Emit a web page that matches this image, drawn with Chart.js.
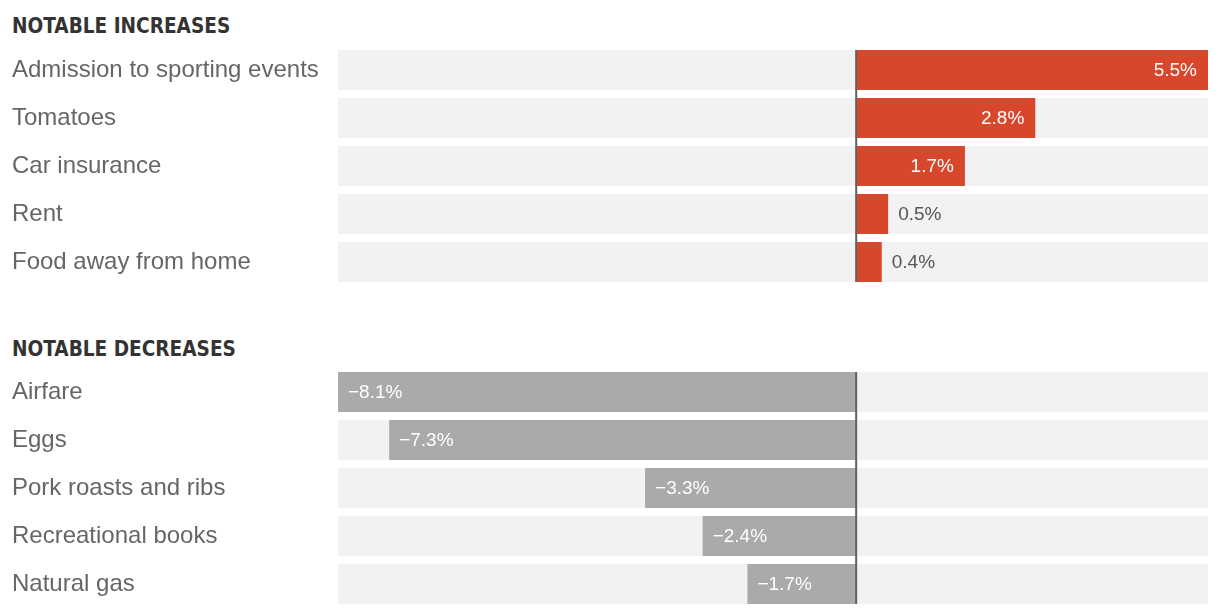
<!DOCTYPE html>
<html>
<head>
<meta charset="utf-8">
<script src="https://cdn.jsdelivr.net/npm/chart.js@4"></script>
<style>
  html, body { margin: 0; padding: 0; background: #fff; }
  body { width: 1220px; height: 614px; position: relative; overflow: hidden; }
  .title {
    position: absolute; left: 12px;
    font-family: "DejaVu Sans Condensed", "Liberation Sans", sans-serif;
    font-weight: bold; font-size: 20.6px; color: #333; line-height: 1;
  }
  canvas { position: absolute; left: 0; }
</style>
</head>
<body>
<div class="title" style="top:16px">NOTABLE INCREASES</div>
<canvas id="inc" width="1220" height="240" style="top:46px"></canvas>
<div class="title" style="top:339px">NOTABLE DECREASES</div>
<canvas id="dec" width="1220" height="240" style="top:368px"></canvas>
<script>
// percent change
const increaseLabels = ['Admission to sporting events', 'Tomatoes', 'Car insurance', 'Rent', 'Food away from home'];
const increaseValues = [5.5, 2.8, 1.7, 0.5, 0.4];
const decreaseLabels = ['Airfare', 'Eggs', 'Pork roasts and ribs', 'Recreational books', 'Natural gas'];
const decreaseValues = [-8.1, -7.3, -3.3, -2.4, -1.7];
const axisMin = -8.1;
const axisMax = 5.5;

const FONT = '"Helvetica Neue", Helvetica, Arial, "Liberation Sans", sans-serif';

function fmt(v) {
    return (v < 0 ? '\u2212' : '') + Math.abs(v).toFixed(1) + '%';
}

// zero line + value labels
const barExtras = {
    id: 'barExtras',
    afterDatasetsDraw(chart) {
        const ctx = chart.ctx;
        const meta = chart.getDatasetMeta(0);
        const values = chart.data.datasets[0].data;
        const x0 = chart.scales.x.getPixelForValue(0);
        const first = meta.data[0], last = meta.data[meta.data.length - 1];

        ctx.save();
        ctx.strokeStyle = '#606060';
        ctx.lineWidth = 2;
        ctx.beginPath();
        ctx.moveTo(x0, first.y - first.height / 2);
        ctx.lineTo(x0, last.y + last.height / 2);
        ctx.stroke();

        ctx.font = '19px ' + FONT;
        ctx.textBaseline = 'middle';
        meta.data.forEach((bar, i) => {
            const v = values[i];
            const text = fmt(v);
            const w = ctx.measureText(text).width;
            const len = Math.abs(bar.x - bar.base);
            if (v < 0) {
                ctx.fillStyle = '#fff';
                ctx.textAlign = 'left';
                ctx.fillText(text, bar.x + 10, bar.y + 1);
            } else if (len > w + 24) {
                ctx.fillStyle = '#fff';
                ctx.textAlign = 'right';
                ctx.fillText(text, bar.x - 11, bar.y + 1);
            } else {
                ctx.fillStyle = '#555';
                ctx.textAlign = 'left';
                ctx.fillText(text, bar.x + 10, bar.y + 1);
            }
        });
        ctx.restore();
    }
};

function makeChart(id, labels, values, color) {
    return new Chart(document.getElementById(id), {
        type: 'bar',
        data: {
            labels: labels,
            datasets: [{
                data: values,
                backgroundColor: color,
                grouped: false,
                order: 1,
                categoryPercentage: 1,
                barPercentage: 40 / 48,
            }, {
                data: labels.map(() => [axisMin, axisMax]),
                backgroundColor: '#f2f2f2',
                grouped: false,
                order: 2,
                categoryPercentage: 1,
                barPercentage: 40 / 48,
            }]
        },
        options: {
            indexAxis: 'y',
            responsive: false,
            animation: false,
            events: [],
            layout: {
                padding: { left: 12, right: 12, top: 0, bottom: 0 },
            },
            plugins: {
                legend: { display: false },
                tooltip: { enabled: false },
            },
            scales: {
                x: {
                    display: false,
                    min: axisMin,
                    max: axisMax,
                },
                y: {
                    grid: { display: false },
                    border: { display: false },
                    ticks: {
                        crossAlign: 'far',
                        color: '#666',
                        font: { family: FONT, size: 24 },
                    },
                    afterFit(scale) {
                        scale.width = 326;
                        scale.paddingTop = 0;
                        scale.paddingBottom = 0;
                    },
                },
            },
        },
        plugins: [barExtras],
    });
}

makeChart('inc', increaseLabels, increaseValues, '#d8472c');
makeChart('dec', decreaseLabels, decreaseValues, '#aaaaaa');
</script>
</body>
</html>
